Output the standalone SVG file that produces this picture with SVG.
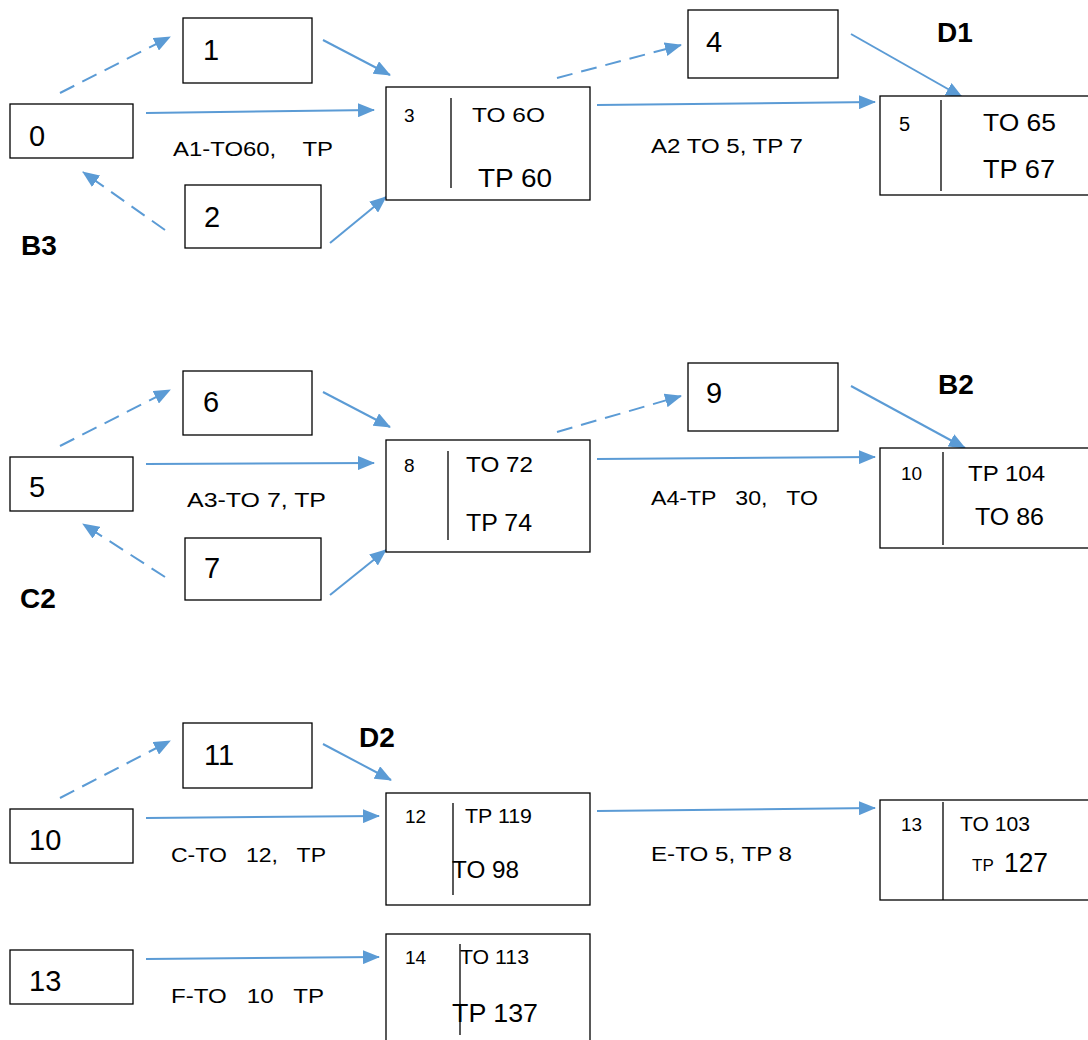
<svg xmlns="http://www.w3.org/2000/svg" width="1088" height="1040" viewBox="0 0 1088 1040">
<style>
.box{fill:#fff;stroke:#000;stroke-width:1.3}
.div{stroke:#000;stroke-width:1.3}
.t{font-family:"Liberation Sans",Arial,sans-serif;fill:#000;white-space:pre}
.big{font-size:29px}
.sm{font-size:19px}
.lab{font-family:"Liberation Sans",Arial,sans-serif;font-size:20px;fill:#000;white-space:pre}
.bold{font-family:"Liberation Sans",Arial,sans-serif;font-weight:bold;font-size:28px;fill:#000}
.c{stroke:#5B9BD5;stroke-width:2;fill:none;marker-end:url(#ah)}
.d{stroke-dasharray:16 9}
</style>
<defs>
<marker id="ah" markerUnits="userSpaceOnUse" markerWidth="18" markerHeight="14" refX="16" refY="7" orient="auto">
<path d="M0,0 L17,7 L0,14 z" fill="#5B9BD5"/>
</marker>
</defs>
<g id="connectors">
<line class="c d" x1="60" y1="93" x2="170" y2="37"/>
<line class="c" x1="323" y1="40" x2="390" y2="75"/>
<line class="c" x1="146" y1="113" x2="374" y2="110"/>
<line class="c d" x1="165" y1="230" x2="83" y2="172"/>
<line class="c" x1="330" y1="243" x2="386" y2="197"/>
<line class="c d" x1="557" y1="78" x2="681" y2="45"/>
<line class="c" x1="597" y1="105" x2="875" y2="102"/>
<line class="c" x1="851" y1="34" x2="962" y2="97"/>
<line class="c d" x1="60" y1="446" x2="170" y2="390"/>
<line class="c" x1="323" y1="392" x2="390" y2="427"/>
<line class="c" x1="146" y1="464" x2="374" y2="463"/>
<line class="c d" x1="165" y1="577" x2="83" y2="524"/>
<line class="c" x1="330" y1="595" x2="386" y2="550"/>
<line class="c d" x1="557" y1="432" x2="681" y2="396"/>
<line class="c" x1="597" y1="459" x2="875" y2="457"/>
<line class="c" x1="851" y1="386" x2="965" y2="448"/>
<line class="c d" x1="60" y1="798" x2="170" y2="741"/>
<line class="c" x1="323" y1="744" x2="391" y2="780"/>
<line class="c" x1="146" y1="818" x2="379" y2="816"/>
<line class="c" x1="597" y1="811" x2="875" y2="808"/>
<line class="c" x1="146" y1="959" x2="379" y2="957"/>
</g>
<g id="labels">
<text class="lab" x="173" y="156" textLength="160" lengthAdjust="spacingAndGlyphs">A1-TO60,    TP</text>
<text class="lab" x="651" y="153" textLength="152" lengthAdjust="spacingAndGlyphs">A2 TO 5, TP 7</text>
<text class="lab" x="187" y="507" textLength="139" lengthAdjust="spacingAndGlyphs">A3-TO 7, TP</text>
<text class="lab" x="651" y="505" textLength="167" lengthAdjust="spacingAndGlyphs">A4-TP   30,   TO</text>
<text class="lab" x="171" y="862" textLength="155" lengthAdjust="spacingAndGlyphs">C-TO   12,   TP</text>
<text class="lab" x="651" y="861" textLength="141" lengthAdjust="spacingAndGlyphs">E-TO 5, TP 8</text>
<text class="lab" x="171" y="1003" textLength="153" lengthAdjust="spacingAndGlyphs">F-TO   10   TP</text>
<text class="bold" x="21" y="255">B3</text>
<text class="bold" x="937" y="42">D1</text>
<text class="bold" x="938" y="394">B2</text>
<text class="bold" x="20" y="608">C2</text>
<text class="bold" x="359" y="747">D2</text>
</g>
<g id="n0"><rect class="box" x="10" y="104" width="123" height="54"/><text class="t big" x="29" y="146">0</text></g>
<g id="n1"><rect class="box" x="183" y="18" width="129" height="65"/><text class="t big" x="203" y="60">1</text></g>
<g id="n2"><rect class="box" x="185" y="185" width="136" height="63"/><text class="t big" x="204" y="227">2</text></g>
<g id="n3"><rect class="box" x="386" y="87" width="204" height="113"/><line class="div" x1="451" y1="98" x2="451" y2="188"/>
<text class="t sm" x="404" y="122">3</text>
<text class="t" x="472" y="122" font-size="21" textLength="73" lengthAdjust="spacingAndGlyphs">TO 6O</text>
<text class="t" x="478" y="187" font-size="26" textLength="74" lengthAdjust="spacingAndGlyphs">TP 60</text></g>
<g id="n4"><rect class="box" x="688" y="10" width="150" height="68"/><text class="t big" x="706" y="52">4</text></g>
<g id="n5a"><rect class="box" x="880" y="96" width="215" height="99"/><line class="div" x1="941" y1="100" x2="941" y2="191"/>
<text class="t" x="899" y="131" font-size="20">5</text>
<text class="t" x="983" y="131" font-size="24" textLength="73" lengthAdjust="spacingAndGlyphs">TO 65</text>
<text class="t" x="983" y="178" font-size="26" textLength="72" lengthAdjust="spacingAndGlyphs">TP 67</text></g>
<g id="n5b"><rect class="box" x="10" y="457" width="123" height="54"/><text class="t big" x="29" y="497">5</text></g>
<g id="n6"><rect class="box" x="183" y="371" width="129" height="64"/><text class="t big" x="203" y="412">6</text></g>
<g id="n7"><rect class="box" x="185" y="538" width="136" height="62"/><text class="t big" x="204" y="578">7</text></g>
<g id="n8"><rect class="box" x="386" y="440" width="204" height="112"/><line class="div" x1="448" y1="451" x2="448" y2="540"/>
<text class="t sm" x="404" y="472">8</text>
<text class="t" x="466" y="472" font-size="22" textLength="67" lengthAdjust="spacingAndGlyphs">TO 72</text>
<text class="t" x="466" y="531" font-size="24" textLength="66" lengthAdjust="spacingAndGlyphs">TP 74</text></g>
<g id="n9"><rect class="box" x="688" y="363" width="150" height="68"/><text class="t big" x="706" y="403">9</text></g>
<g id="n10a"><rect class="box" x="880" y="448" width="215" height="100"/><line class="div" x1="943" y1="452" x2="943" y2="545"/>
<text class="t sm" x="901" y="480">10</text>
<text class="t" x="968" y="481" font-size="22" textLength="77" lengthAdjust="spacingAndGlyphs">TP 104</text>
<text class="t" x="975" y="525" font-size="24" textLength="69" lengthAdjust="spacingAndGlyphs">TO 86</text></g>
<g id="n10b"><rect class="box" x="10" y="809" width="123" height="54"/><text class="t big" x="29" y="850">10</text></g>
<g id="n11"><rect class="box" x="183" y="723" width="129" height="65"/><text class="t big" x="204" y="765">11</text></g>
<g id="n12"><rect class="box" x="386" y="793" width="204" height="112"/><line class="div" x1="453" y1="803" x2="453" y2="895"/>
<text class="t sm" x="405" y="823">12</text>
<text class="t" x="465" y="823" font-size="20" textLength="67" lengthAdjust="spacingAndGlyphs">TP 119</text>
<text class="t" x="452" y="878" font-size="24" textLength="67" lengthAdjust="spacingAndGlyphs">TO 98</text></g>
<g id="n13a"><rect class="box" x="880" y="800" width="215" height="100"/><line class="div" x1="943" y1="802" x2="943" y2="900"/>
<text class="t sm" x="901" y="831">13</text>
<text class="t" x="960" y="831" font-size="20" textLength="70" lengthAdjust="spacingAndGlyphs">TO 103</text>
<text class="t" x="972" y="871" font-size="17">TP</text>
<text class="t" x="1004" y="872" font-size="28" textLength="44" lengthAdjust="spacingAndGlyphs">127</text></g>
<g id="n13b"><rect class="box" x="10" y="950" width="123" height="54"/><text class="t big" x="29" y="991">13</text></g>
<g id="n14"><rect class="box" x="386" y="934" width="204" height="120"/><line class="div" x1="460" y1="944" x2="460" y2="1035"/>
<text class="t sm" x="405" y="964">14</text>
<text class="t" x="460" y="964" font-size="20" textLength="69" lengthAdjust="spacingAndGlyphs">TO 113</text>
<text class="t" x="452" y="1022" font-size="26" textLength="86" lengthAdjust="spacingAndGlyphs">TP 137</text></g>
</svg>
